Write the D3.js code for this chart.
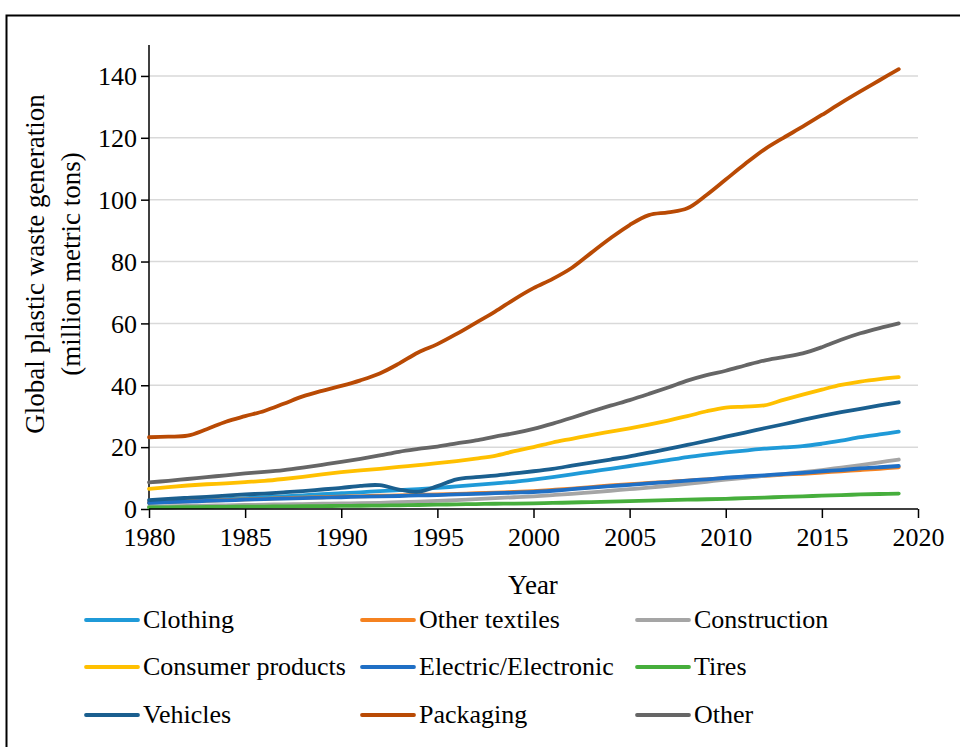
<!DOCTYPE html>
<html>
<head>
<meta charset="utf-8">
<script src="https://cdn.jsdelivr.net/npm/d3@7"></script>
<style>
  html, body { margin: 0; padding: 0; background: #fff; }
  svg { display: block; }
  text { font-family: "Liberation Serif", "Times New Roman", serif; fill: #000; }
</style>
</head>
<body>
<svg id="chart" width="960" height="747"></svg>
<script>
const years = d3.range(1980, 2020);
const seriesNames = ["Clothing","Other textiles","Construction","Consumer products","Electric/Electronic","Tires","Vehicles","Packaging","Other"];
const seriesColors = ["#1f9ad8","#f58220","#a5a5a5","#ffc000","#1f6fc5","#46ae3c","#1a5f8f","#b94a04","#666666"];

const clothing = [2.0,2.3,2.6,2.9,3.2,3.5,3.8,4.1,4.4,4.8,5.1,5.4,5.8,6.1,6.4,6.8,7.3,7.8,8.3,8.8,9.5,10.3,11.2,12.1,13.0,13.9,14.8,15.8,16.8,17.6,18.3,18.9,19.5,19.9,20.3,21.1,22.1,23.2,24.1,25.0];
const otherTextiles = [2.1,2.3,2.5,2.7,2.9,3.1,3.3,3.5,3.7,3.8,4.0,4.1,4.3,4.4,4.6,4.7,4.9,5.1,5.3,5.5,5.8,6.2,6.6,7.1,7.6,8.0,8.4,8.8,9.2,9.6,10.0,10.4,10.7,11.1,11.4,11.8,12.2,12.6,13.0,13.5];
const construction = [0.8,0.9,1.0,1.1,1.2,1.3,1.4,1.5,1.6,1.7,1.8,1.9,2.0,2.2,2.4,2.6,2.9,3.2,3.5,3.8,4.1,4.5,4.9,5.4,5.9,6.4,6.9,7.5,8.1,8.8,9.5,10.1,10.7,11.3,11.9,12.6,13.4,14.2,15.1,16.0];
const consumer = [6.5,7.1,7.6,8.0,8.3,8.7,9.1,9.7,10.4,11.2,11.9,12.5,13.0,13.6,14.2,14.8,15.5,16.3,17.2,18.7,20.0,21.5,22.7,23.9,25.0,26.1,27.3,28.6,30.0,31.6,32.8,33.1,33.5,35.3,37.0,38.6,40.1,41.2,42.0,42.6];
const electric = [2.0,2.2,2.4,2.6,2.8,3.0,3.2,3.4,3.5,3.7,3.8,4.0,4.1,4.2,4.4,4.5,4.7,4.9,5.1,5.3,5.5,5.9,6.4,6.9,7.4,7.8,8.3,8.7,9.2,9.6,10.1,10.5,10.9,11.3,11.7,12.2,12.6,13.1,13.5,13.9];
const tires = [0.5,0.55,0.6,0.65,0.7,0.75,0.8,0.85,0.9,0.95,1.0,1.05,1.1,1.2,1.3,1.4,1.5,1.6,1.7,1.75,1.8,1.95,2.1,2.25,2.4,2.55,2.7,2.85,3.0,3.15,3.3,3.5,3.7,3.9,4.1,4.3,4.5,4.7,4.85,5.0];
const vehicles = [2.9,3.3,3.6,3.9,4.3,4.7,5.0,5.4,5.8,6.3,6.8,7.5,7.7,6.3,5.6,7.4,9.6,10.3,10.8,11.5,12.2,13.0,14.0,15.0,16.0,17.0,18.2,19.4,20.7,22.0,23.4,24.7,26.1,27.4,28.8,30.1,31.3,32.4,33.5,34.5];
const packaging = [23.2,23.4,23.7,25.8,28.2,30.0,31.7,34.0,36.4,38.2,39.8,41.6,43.8,47.0,50.6,53.3,56.6,60.2,63.8,67.8,71.4,74.4,78.0,82.8,87.5,91.8,95.0,95.9,97.2,101.5,106.5,111.5,116.2,120.0,123.6,127.4,131.3,135.0,138.6,142.2];
const other = [8.6,9.1,9.7,10.3,10.9,11.5,12.0,12.6,13.4,14.3,15.2,16.2,17.3,18.5,19.4,20.2,21.2,22.2,23.4,24.5,25.9,27.6,29.5,31.5,33.4,35.2,37.2,39.3,41.5,43.3,44.7,46.4,48.0,49.1,50.3,52.3,54.7,56.8,58.5,60.0];

const yTicks = [0,20,40,60,80,100,120,140];
const xTicks = [1980,1985,1990,1995,2000,2005,2010,2015,2020];

const seriesValues = [clothing, otherTextiles, construction, consumer, electric, tires, vehicles, packaging, other];

const svg = d3.select("#chart");

// outer frame
svg.append("rect").attr("x", 6.5).attr("y", 15.5).attr("width", 1000).attr("height", 1000)
  .attr("fill", "none").attr("stroke", "#000").attr("stroke-width", 2);

const x = d3.scaleLinear().domain([1980, 2020]).range([149, 918]);
const y = d3.scaleLinear().domain([0, 150]).range([509, 45]);

// gridlines
svg.append("g").selectAll("line").data(yTicks.filter(d => d > 0)).join("line")
  .attr("x1", x(1980)).attr("x2", x(2020))
  .attr("y1", d => y(d)).attr("y2", d => y(d))
  .attr("stroke", "#d9d9d9").attr("stroke-width", 1.5);

// y axis
const yAxis = svg.append("g").attr("transform", `translate(${x(1980)},0)`)
  .call(d3.axisLeft(y).tickValues(yTicks).tickSize(8).tickPadding(4).tickFormat(d3.format("d")));
yAxis.select(".domain").attr("stroke", "#000").attr("stroke-width", 1.5).attr("d", `M0,${y(150)}V${y(0)}`);
yAxis.selectAll(".tick line").attr("stroke", "#000").attr("stroke-width", 1.5);
yAxis.selectAll(".tick text").style("font-size", "26px").style("font-family", "Liberation Serif, serif").attr("dy", "0.34em");

// lines
const line = d3.line().x((d, i) => x(years[i])).y(d => y(d)).curve(d3.curveCatmullRom.alpha(0.5));
svg.append("g").selectAll("path").data(seriesValues).join("path")
  .attr("d", d => line(d))
  .attr("fill", "none")
  .attr("stroke", (d, i) => seriesColors[i])
  .attr("stroke-width", 3.8)
  .attr("stroke-linecap", "round")
  .attr("stroke-linejoin", "round");

// x axis
const xAxis = svg.append("g").attr("transform", `translate(0,${y(0)})`)
  .call(d3.axisBottom(x).tickValues(xTicks).tickSize(9).tickPadding(10).tickFormat(d3.format("d")));
xAxis.select(".domain").attr("stroke", "#000").attr("stroke-width", 1.5).attr("d", `M${x(1980)},0H${x(2020)}`);
xAxis.selectAll(".tick line").attr("stroke", "#000").attr("stroke-width", 1.5);
xAxis.selectAll(".tick text").style("font-size", "26px").style("font-family", "Liberation Serif, serif");

// axis titles
svg.append("text").attr("x", 533).attr("y", 594).attr("text-anchor", "middle")
  .style("font-size", "27px").text("Year");
svg.append("text").attr("transform", "translate(44,264) rotate(-90)").attr("text-anchor", "middle")
  .style("font-size", "27px").text("Global plastic waste generation");
svg.append("text").attr("transform", "translate(80,264) rotate(-90)").attr("text-anchor", "middle")
  .style("font-size", "27px").text("(million metric tons)");

// legend
const colX = [86, 362, 637];
const rowY = [620, 667, 715];
const leg = svg.append("g").selectAll("g").data(seriesNames).join("g")
  .attr("transform", (d, i) => `translate(${colX[i % 3]},${rowY[Math.floor(i / 3)]})`);
leg.append("line").attr("x1", 0).attr("x2", 52).attr("y1", 0).attr("y2", 0)
  .attr("stroke", (d, i) => seriesColors[i]).attr("stroke-width", 3.8).attr("stroke-linecap", "round");
leg.append("text").attr("x", 57).attr("y", 8).style("font-size", "26px").text(d => d);
</script>
</body>
</html>
